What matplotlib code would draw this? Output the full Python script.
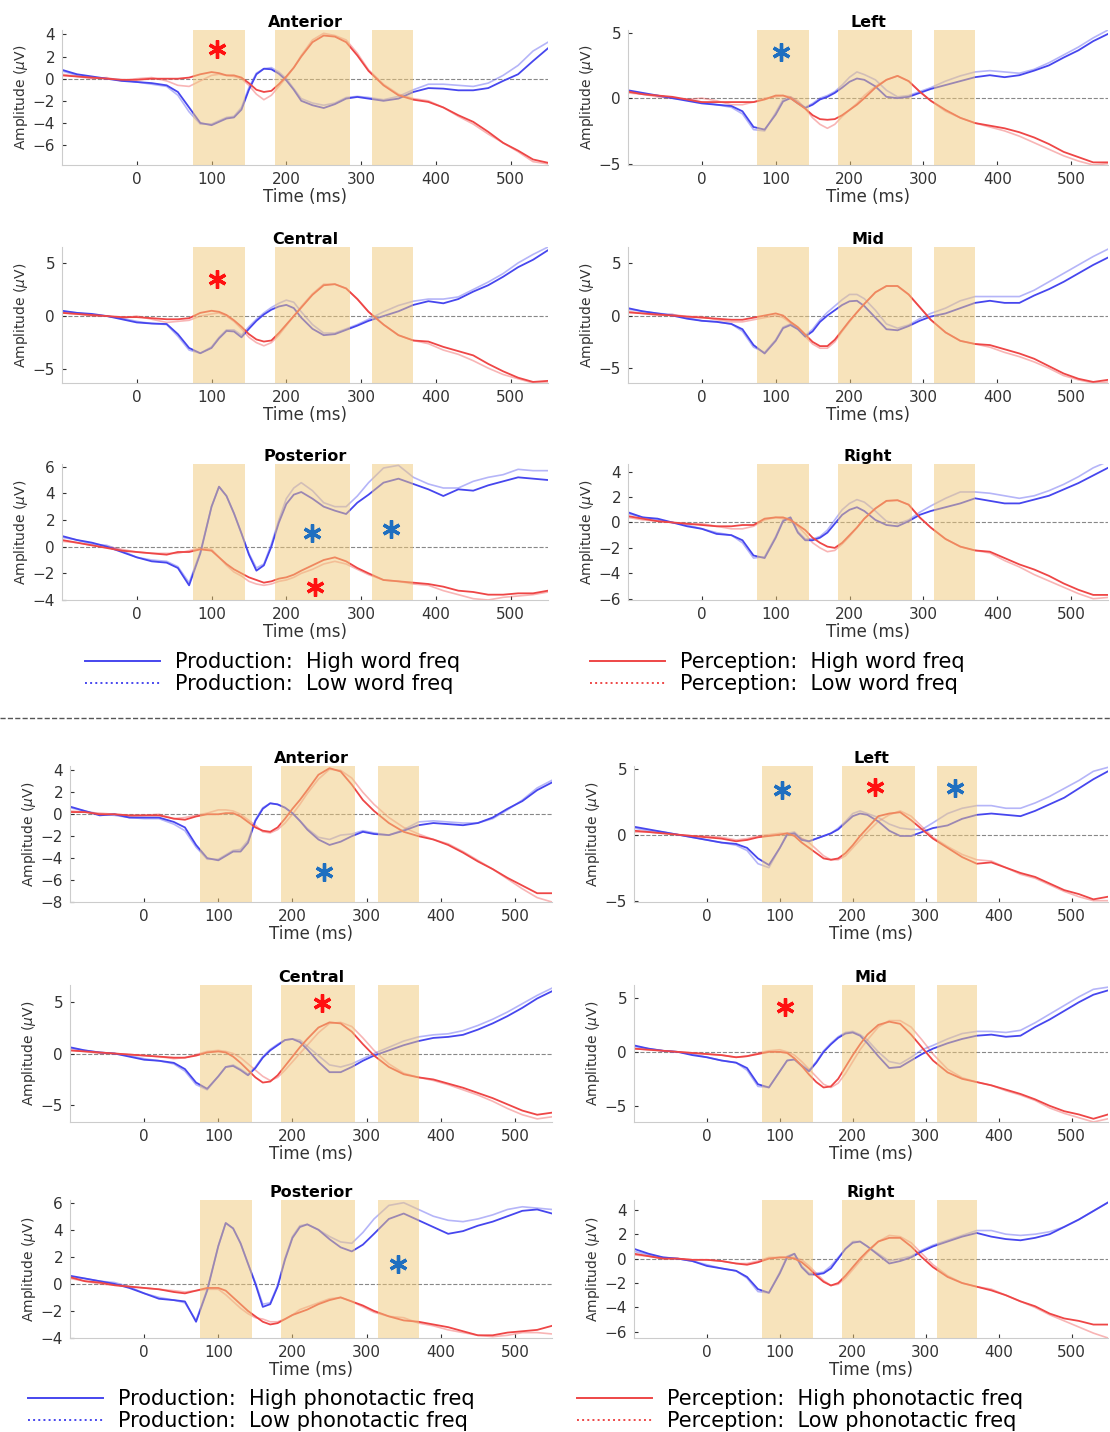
import numpy as np
import matplotlib
matplotlib.use("Agg")
import matplotlib.pyplot as plt
from matplotlib.lines import Line2D

plt.rcParams['font.family'] = ['DejaVu Sans']

# time axis (ms), shared by every curve
t = [-100, -80, -60, -40, -20, 0, 20, 40, 55, 70, 85, 100, 110, 120, 130, 140, 150, 160, 170, 180,
     190, 200, 210, 220, 235, 250, 265, 280, 295, 310, 330, 350, 370, 390, 410, 430, 450, 470, 490, 510, 530, 550]

# analysis windows (ms)
windows = [(75, 145), (185, 285), (315, 370)]

# ---------------- word frequency ----------------
w_ant_prod_hi = [0.8,0.4,0.2,0.0,-0.2,-0.3,-0.4,-0.6,-1.2,-2.6,-4.0,-4.2,-3.9,-3.6,-3.5,-2.8,-1.0,0.4,0.9,0.85,0.45,-0.15,-1.0,-2.0,-2.4,-2.65,-2.3,-1.8,-1.65,-1.8,-2.0,-1.8,-1.2,-0.85,-0.9,-1.05,-1.05,-0.85,-0.2,0.4,1.6,2.75]
w_ant_prod_lo = [0.7,0.3,0.1,0.0,-0.1,-0.3,-0.5,-0.7,-1.5,-3.0,-4.1,-4.1,-3.8,-3.5,-3.4,-2.6,-0.8,0.5,0.9,1.0,0.6,0.0,-0.9,-1.8,-2.2,-2.4,-2.2,-1.7,-1.6,-1.7,-1.9,-1.6,-1.0,-0.5,-0.5,-0.6,-0.7,-0.4,0.3,1.2,2.5,3.3]
w_ant_perc_hi = [0.3,0.2,0.1,0.0,-0.1,-0.1,0.0,0.0,0.0,0.1,0.4,0.6,0.5,0.3,0.3,0.1,-0.4,-1.0,-1.2,-1.1,-0.5,0.2,1.0,2.0,3.3,3.9,3.8,3.3,2.1,0.7,-0.6,-1.5,-1.9,-2.1,-2.6,-3.3,-3.9,-4.8,-5.8,-6.5,-7.3,-7.6]
w_ant_perc_lo = [0.4,0.2,0.0,0.1,-0.2,0.0,0.1,-0.2,-0.6,-0.7,-0.2,0.3,0.4,0.3,0.2,0.0,-0.6,-1.4,-1.9,-1.5,-0.7,0.1,1.0,2.1,3.5,4.1,3.9,3.5,2.3,0.8,-0.5,-1.4,-1.8,-2.0,-2.6,-3.4,-4.1,-5.0,-5.8,-6.6,-7.5,-7.7]

w_left_prod_hi = [0.6,0.4,0.2,0.0,-0.2,-0.4,-0.5,-0.6,-1.0,-2.2,-2.4,-1.25,-0.25,0.0,-0.4,-0.75,-0.5,-0.1,0.1,0.4,0.8,1.25,1.5,1.4,0.9,0.1,0.0,0.1,0.4,0.7,1.0,1.3,1.6,1.75,1.6,1.75,2.1,2.5,3.1,3.65,4.35,4.9]
w_left_prod_lo = [0.5,0.3,0.2,0.0,-0.1,-0.3,-0.5,-0.7,-1.2,-2.4,-2.5,-1.1,-0.1,0.1,-0.3,-0.7,-0.4,0.0,0.2,0.5,1.0,1.6,2.0,1.8,1.4,0.6,0.1,0.2,0.5,0.8,1.3,1.7,2.0,2.1,2.0,1.9,2.2,2.7,3.3,3.9,4.6,5.2]
w_left_perc_hi = [0.5,0.3,0.2,0.1,-0.1,-0.3,-0.3,-0.3,-0.3,-0.3,-0.1,0.2,0.2,0.0,-0.4,-0.8,-1.3,-1.6,-1.65,-1.6,-1.3,-0.9,-0.5,0.0,0.8,1.4,1.7,1.3,0.5,-0.2,-0.9,-1.5,-1.9,-2.1,-2.3,-2.6,-3.0,-3.5,-4.1,-4.5,-4.9,-4.9]
w_left_perc_lo = [0.4,0.3,0.1,0.0,-0.1,0.0,-0.2,-0.5,-0.5,-0.3,0.0,0.1,0.2,0.1,-0.2,-0.8,-1.5,-2.0,-2.3,-2.0,-1.4,-0.9,-0.4,0.2,0.9,1.4,1.7,1.3,0.5,-0.2,-1.0,-1.5,-1.9,-2.2,-2.5,-2.9,-3.4,-3.9,-4.4,-4.8,-5.1,-5.0]

w_cen_prod_hi = [0.5,0.3,0.2,0.0,-0.3,-0.6,-0.7,-0.75,-1.7,-3.0,-3.5,-3.0,-2.1,-1.4,-1.45,-2.0,-1.2,-0.45,0.15,0.6,0.9,1.05,0.75,-0.15,-1.2,-1.8,-1.7,-1.3,-0.9,-0.45,0.0,0.45,1.05,1.4,1.2,1.6,2.3,2.9,3.7,4.6,5.3,6.2]
w_cen_prod_lo = [0.4,0.3,0.1,0.0,-0.2,-0.5,-0.7,-0.8,-1.9,-3.2,-3.5,-2.9,-2.0,-1.3,-1.3,-1.8,-1.0,-0.3,0.3,0.8,1.2,1.5,1.3,0.4,-0.8,-1.6,-1.6,-1.2,-0.8,-0.3,0.4,1.0,1.4,1.6,1.6,1.8,2.5,3.2,4.0,5.0,5.8,6.5]
w_cen_perc_hi = [0.3,0.2,0.1,0.0,-0.1,-0.1,-0.2,-0.3,-0.3,-0.2,0.3,0.5,0.4,0.1,-0.4,-1.0,-1.7,-2.2,-2.4,-2.3,-1.6,-0.8,0.0,0.8,2.0,2.9,3.0,2.6,1.6,0.4,-0.8,-1.8,-2.3,-2.4,-2.9,-3.3,-3.7,-4.5,-5.2,-5.8,-6.2,-6.1]
w_cen_perc_lo = [0.3,0.2,0.0,0.0,-0.2,0.0,-0.3,-0.6,-0.5,-0.4,0.0,0.2,0.3,0.0,-0.5,-1.2,-2.0,-2.5,-2.8,-2.5,-1.8,-0.9,0.0,0.9,2.1,3.0,3.0,2.6,1.6,0.4,-0.8,-1.8,-2.3,-2.6,-3.2,-3.6,-4.2,-4.9,-5.5,-5.9,-6.3,-6.3]

w_mid_prod_hi = [0.7,0.4,0.2,0.0,-0.3,-0.5,-0.6,-0.8,-1.3,-2.8,-3.6,-2.4,-1.2,-0.9,-1.3,-2.0,-1.5,-0.6,0.0,0.5,1.0,1.35,1.4,0.9,-0.2,-1.3,-1.4,-1.0,-0.5,-0.1,0.2,0.7,1.2,1.4,1.2,1.2,1.9,2.5,3.2,4.0,4.8,5.5]
w_mid_prod_lo = [0.6,0.4,0.2,0.1,-0.2,-0.5,-0.6,-0.8,-1.5,-3.0,-3.5,-2.3,-1.1,-0.8,-1.2,-1.9,-1.3,-0.4,0.3,0.9,1.5,2.0,2.0,1.6,0.5,-0.8,-1.2,-0.9,-0.3,0.2,0.7,1.4,1.8,1.8,1.8,1.8,2.4,3.2,4.0,4.8,5.6,6.3]
w_mid_perc_hi = [0.3,0.2,0.1,0.0,-0.1,-0.2,-0.3,-0.4,-0.4,-0.2,0.0,0.2,0.0,-0.6,-1.1,-1.8,-2.5,-2.9,-2.9,-2.3,-1.4,-0.5,0.3,1.1,2.2,2.8,2.8,2.0,0.8,-0.4,-1.6,-2.4,-2.7,-2.8,-3.2,-3.6,-4.1,-4.8,-5.5,-6.0,-6.3,-6.1]
w_mid_perc_lo = [0.4,0.2,0.0,0.1,-0.1,-0.1,-0.4,-0.6,-0.6,-0.4,-0.2,0.0,-0.2,-0.7,-1.2,-2.0,-2.7,-3.1,-3.1,-2.5,-1.5,-0.6,0.3,1.1,2.2,2.8,2.8,2.0,0.8,-0.4,-1.6,-2.4,-2.7,-3.0,-3.5,-3.9,-4.4,-5.0,-5.7,-6.1,-6.4,-6.3]

w_post_prod_hi = [0.8,0.5,0.3,0.0,-0.4,-0.8,-1.1,-1.2,-1.6,-2.9,-0.5,3.0,4.5,3.8,2.5,1.0,-0.6,-1.8,-1.4,0.0,1.8,3.2,3.9,4.1,3.6,3.0,2.7,2.45,3.3,3.9,4.8,5.1,4.7,4.3,3.8,4.3,4.2,4.6,4.9,5.2,5.1,5.0]
w_post_prod_lo = [0.7,0.5,0.2,0.1,-0.3,-0.8,-1.0,-1.1,-1.5,-2.7,-0.4,3.0,4.5,3.8,2.5,1.0,-0.5,-1.6,-1.3,0.2,2.0,3.6,4.4,4.8,4.2,3.3,3.0,3.0,3.8,4.8,5.9,6.1,5.2,4.7,4.4,4.4,4.9,5.2,5.4,5.8,5.7,5.7]
w_post_perc_hi = [0.5,0.3,0.1,-0.1,-0.3,-0.4,-0.5,-0.6,-0.4,-0.4,-0.2,-0.3,-0.8,-1.3,-1.7,-2.0,-2.3,-2.5,-2.7,-2.6,-2.4,-2.3,-2.1,-1.8,-1.4,-1.0,-0.8,-1.1,-1.6,-2.0,-2.5,-2.6,-2.7,-2.8,-3.0,-3.3,-3.4,-3.6,-3.6,-3.5,-3.5,-3.3]
w_post_perc_lo = [0.4,0.3,0.1,0.0,-0.2,-0.4,-0.5,-0.5,-0.5,-0.3,-0.1,-0.2,-0.8,-1.4,-1.9,-2.2,-2.6,-2.8,-2.9,-2.8,-2.6,-2.5,-2.3,-2.0,-1.7,-1.3,-1.1,-1.3,-1.7,-2.1,-2.5,-2.6,-2.8,-2.9,-3.3,-3.6,-3.9,-4.0,-3.8,-3.7,-3.6,-3.4]

w_right_prod_hi = [0.8,0.4,0.3,0.0,-0.3,-0.5,-0.9,-1.0,-1.4,-2.6,-2.8,-1.2,0.1,0.4,-0.8,-1.4,-1.4,-1.2,-0.8,-0.1,0.6,1.0,1.2,0.9,0.2,-0.2,-0.3,0.1,0.6,0.9,1.2,1.5,1.9,1.7,1.5,1.5,1.8,2.1,2.6,3.1,3.7,4.3]
w_right_prod_lo = [0.7,0.4,0.2,0.0,-0.2,-0.5,-0.8,-1.0,-1.6,-2.8,-2.7,-1.1,0.2,0.4,-0.7,-1.3,-1.3,-1.1,-0.6,0.2,1.0,1.5,1.8,1.6,0.9,0.1,-0.1,0.2,0.8,1.3,1.9,2.4,2.4,2.3,2.1,1.9,2.1,2.5,3.0,3.6,4.3,4.8]
w_right_perc_hi = [0.5,0.3,0.1,0.0,-0.1,-0.2,-0.3,-0.3,-0.2,-0.2,0.3,0.4,0.4,0.2,-0.2,-0.6,-1.2,-1.6,-1.9,-2.0,-1.6,-1.0,-0.4,0.3,1.1,1.7,1.75,1.4,0.4,-0.4,-1.3,-1.9,-2.2,-2.3,-2.8,-3.3,-3.7,-4.2,-4.8,-5.3,-5.7,-5.7]
w_right_perc_lo = [0.4,0.2,0.1,0.0,-0.1,-0.1,-0.3,-0.5,-0.5,-0.3,0.2,0.4,0.3,0.1,-0.3,-0.9,-1.6,-2.0,-2.3,-2.2,-1.7,-1.1,-0.4,0.3,1.1,1.7,1.75,1.4,0.4,-0.4,-1.3,-1.9,-2.2,-2.4,-3.0,-3.5,-4.1,-4.6,-5.1,-5.6,-6.0,-5.9]

# ---------------- phonotactic frequency ----------------
p_ant_prod_hi = [0.7,0.3,-0.1,0.0,-0.3,-0.3,-0.3,-0.7,-1.2,-2.8,-4.0,-4.2,-3.8,-3.4,-3.4,-2.6,-0.6,0.5,1.0,0.9,0.6,0.1,-0.6,-1.4,-2.3,-2.8,-2.5,-2.0,-1.6,-1.8,-1.9,-1.5,-1.0,-0.8,-0.9,-1.0,-0.8,-0.3,0.5,1.2,2.2,2.9]
p_ant_prod_lo = [0.6,0.3,0.0,-0.1,-0.3,-0.4,-0.4,-0.9,-1.5,-3.0,-4.1,-4.1,-3.7,-3.3,-3.2,-2.4,-0.5,0.6,1.0,0.9,0.6,0.1,-0.6,-1.3,-2.1,-2.3,-1.9,-1.8,-1.5,-1.7,-1.9,-1.4,-0.7,-0.6,-0.7,-0.8,-0.8,-0.4,0.4,1.3,2.4,3.1]
p_ant_perc_hi = [0.2,0.2,0.0,0.0,-0.1,-0.1,-0.1,-0.4,-0.5,-0.2,0.0,0.0,0.1,0.1,-0.2,-0.7,-1.2,-1.5,-1.6,-1.2,-0.4,0.5,1.3,2.2,3.6,4.2,3.9,2.7,1.3,0.3,-0.8,-1.6,-2.0,-2.3,-2.8,-3.5,-4.3,-5.0,-5.8,-6.5,-7.2,-7.2]
p_ant_perc_lo = [0.3,0.2,0.1,0.0,-0.2,-0.1,0.0,-0.4,-0.3,-0.1,0.1,0.4,0.4,0.3,0.0,-0.5,-1.0,-1.6,-1.7,-1.4,-0.8,0.0,0.9,1.9,3.2,4.1,4.0,3.3,2.0,0.9,-0.3,-1.2,-1.8,-2.3,-2.7,-3.4,-4.2,-5.0,-5.9,-6.8,-7.6,-8.0]

p_left_prod_hi = [0.6,0.4,0.2,0.0,-0.2,-0.4,-0.6,-0.7,-1.0,-1.8,-2.3,-1.0,0.0,0.1,-0.4,-0.5,-0.3,-0.1,0.1,0.4,0.9,1.4,1.6,1.5,1.0,0.3,-0.1,-0.1,0.2,0.5,0.7,1.2,1.5,1.6,1.5,1.4,1.8,2.3,2.8,3.5,4.2,4.8]
p_left_prod_lo = [0.5,0.3,0.2,0.0,-0.2,-0.4,-0.6,-0.8,-1.2,-2.2,-2.5,-1.0,0.1,0.2,-0.3,-0.5,-0.3,-0.1,0.1,0.5,1.0,1.6,1.8,1.6,1.3,0.8,0.5,0.4,0.4,0.9,1.6,2.0,2.2,2.2,2.0,2.0,2.4,2.9,3.5,4.1,4.8,5.1]
p_left_perc_hi = [0.3,0.2,0.1,0.0,-0.1,-0.2,-0.3,-0.5,-0.4,-0.2,-0.1,0.0,0.1,-0.1,-0.6,-1.0,-1.4,-1.8,-1.9,-1.8,-1.4,-0.8,-0.1,0.5,1.4,1.6,1.7,1.1,0.4,-0.3,-1.0,-1.7,-2.2,-2.1,-2.5,-2.9,-3.2,-3.7,-4.2,-4.5,-4.9,-4.7]
p_left_perc_lo = [0.2,0.2,0.1,0.0,-0.1,-0.1,-0.2,-0.4,-0.3,-0.1,0.0,0.1,0.1,0.0,-0.3,-0.6,-1.1,-1.6,-1.9,-1.9,-1.6,-1.0,-0.4,0.2,1.0,1.5,1.8,1.4,0.6,-0.2,-0.9,-1.5,-1.9,-2.0,-2.5,-3.0,-3.3,-3.8,-4.3,-4.7,-5.0,-5.0]

p_cen_prod_hi = [0.6,0.3,0.1,0.0,-0.3,-0.6,-0.7,-0.9,-1.5,-2.8,-3.4,-2.2,-1.3,-1.2,-1.6,-2.1,-1.4,-0.4,0.3,0.8,1.3,1.4,1.1,0.4,-0.8,-1.8,-1.8,-1.3,-0.7,-0.2,0.3,0.8,1.2,1.5,1.6,1.8,2.3,2.9,3.6,4.4,5.3,6.0]
p_cen_prod_lo = [0.5,0.3,0.1,0.0,-0.2,-0.5,-0.7,-1.0,-1.7,-3.0,-3.5,-2.2,-1.3,-1.1,-1.5,-2.0,-1.3,-0.3,0.4,0.9,1.3,1.4,1.3,0.7,-0.2,-1.1,-1.3,-1.0,-0.5,0.0,0.6,1.2,1.6,1.8,1.9,2.2,2.7,3.3,4.0,4.8,5.6,6.3]
p_cen_perc_hi = [0.3,0.2,0.1,0.0,-0.1,-0.2,-0.3,-0.4,-0.4,-0.2,0.1,0.2,0.1,-0.3,-0.9,-1.6,-2.3,-2.8,-2.7,-2.1,-1.2,-0.3,0.6,1.4,2.5,3.0,2.9,2.1,0.9,-0.2,-1.3,-2.0,-2.3,-2.5,-2.9,-3.3,-3.8,-4.3,-4.9,-5.5,-5.9,-5.7]
p_cen_perc_lo = [0.3,0.2,0.0,0.0,-0.1,-0.2,-0.3,-0.5,-0.4,-0.1,0.2,0.3,0.2,0.0,-0.4,-1.0,-1.6,-2.2,-2.6,-2.3,-1.6,-0.8,0.0,0.8,2.0,2.9,3.0,2.6,1.5,0.3,-1.0,-1.9,-2.3,-2.6,-3.0,-3.5,-4.0,-4.6,-5.3,-5.9,-6.3,-6.1]

p_mid_prod_hi = [0.6,0.3,0.1,0.0,-0.3,-0.5,-0.8,-1.0,-1.5,-3.0,-3.3,-1.8,-0.8,-0.7,-1.3,-1.8,-1.0,0.0,0.7,1.3,1.7,1.8,1.5,0.8,-0.4,-1.5,-1.4,-0.8,-0.2,0.3,0.8,1.2,1.5,1.6,1.4,1.5,2.3,3.0,3.8,4.6,5.3,5.7]
p_mid_prod_lo = [0.5,0.3,0.1,0.0,-0.2,-0.5,-0.8,-1.0,-1.7,-3.2,-3.3,-1.8,-0.8,-0.7,-1.2,-1.7,-0.9,0.1,0.8,1.4,1.8,1.9,1.6,1.1,0.0,-0.9,-1.1,-0.5,0.2,0.6,1.2,1.7,1.9,1.9,1.8,2.0,2.7,3.5,4.3,5.1,5.8,6.0]
p_mid_perc_hi = [0.3,0.2,0.1,0.0,-0.1,-0.2,-0.3,-0.5,-0.4,-0.2,0.0,0.0,-0.1,-0.6,-1.3,-2.1,-2.8,-3.3,-3.2,-2.5,-1.4,-0.3,0.7,1.6,2.5,2.8,2.6,1.6,0.4,-0.8,-1.9,-2.5,-2.8,-3.1,-3.5,-3.9,-4.4,-5.0,-5.5,-5.8,-6.2,-5.8]
p_mid_perc_lo = [0.3,0.2,0.1,0.0,-0.1,-0.2,-0.3,-0.5,-0.4,-0.1,0.1,0.2,0.0,-0.3,-0.9,-1.6,-2.3,-3.0,-3.3,-2.9,-2.0,-0.9,0.2,1.1,2.3,2.9,2.9,2.3,1.1,-0.2,-1.6,-2.4,-2.8,-3.1,-3.6,-4.0,-4.5,-5.2,-5.7,-6.1,-6.5,-6.2]

p_post_prod_hi = [0.6,0.4,0.2,0.0,-0.3,-0.7,-1.1,-1.2,-1.3,-2.8,-0.5,2.8,4.5,4.1,3.0,1.5,0.0,-1.7,-1.5,-0.2,1.8,3.4,4.2,4.4,4.0,3.3,2.7,2.4,2.9,3.7,4.8,5.2,4.7,4.2,3.7,3.9,4.3,4.6,5.0,5.4,5.5,5.2]
p_post_prod_lo = [0.5,0.4,0.2,0.1,-0.2,-0.7,-1.0,-1.2,-1.4,-2.7,-0.4,2.8,4.5,4.1,3.0,1.5,0.1,-1.5,-1.4,-0.1,1.9,3.5,4.3,4.4,4.0,3.5,3.1,3.0,3.8,4.8,5.8,6.0,5.5,5.0,4.7,4.6,4.8,5.1,5.5,5.7,5.6,5.5]
p_post_perc_hi = [0.5,0.2,0.1,-0.1,-0.2,-0.3,-0.4,-0.6,-0.7,-0.5,-0.3,-0.3,-0.5,-1.0,-1.5,-2.0,-2.4,-2.8,-3.0,-2.9,-2.6,-2.3,-2.1,-1.9,-1.5,-1.2,-1.0,-1.3,-1.6,-2.0,-2.4,-2.7,-2.8,-3.0,-3.2,-3.5,-3.8,-3.8,-3.6,-3.5,-3.4,-3.1]
p_post_perc_lo = [0.4,0.2,0.0,-0.1,-0.2,-0.3,-0.4,-0.5,-0.6,-0.5,-0.4,-0.4,-0.8,-1.3,-1.8,-2.2,-2.5,-2.6,-2.8,-2.8,-2.6,-2.3,-1.9,-1.7,-1.4,-1.1,-1.0,-1.3,-1.7,-2.1,-2.4,-2.5,-2.9,-3.1,-3.4,-3.6,-3.8,-3.9,-3.8,-3.6,-3.6,-3.7]

p_right_prod_hi = [0.8,0.4,0.1,0.0,-0.2,-0.6,-0.8,-1.0,-1.5,-2.5,-2.8,-1.2,0.1,0.4,-0.7,-1.3,-1.3,-1.2,-0.8,0.0,0.8,1.3,1.4,1.0,0.3,-0.4,-0.2,0.1,0.6,1.0,1.4,1.8,2.1,1.8,1.6,1.5,1.7,2.0,2.6,3.2,3.9,4.6]
p_right_prod_lo = [0.6,0.3,0.1,0.0,-0.2,-0.5,-0.8,-1.0,-1.6,-2.7,-2.8,-1.1,0.2,0.4,-0.6,-1.2,-1.2,-1.1,-0.6,0.1,0.8,1.4,1.4,1.0,0.4,-0.2,0.0,0.2,0.7,1.1,1.5,1.9,2.3,2.3,2.0,1.9,2.0,2.2,2.6,3.2,3.9,4.6]
p_right_perc_hi = [0.4,0.2,0.0,0.0,-0.1,-0.1,-0.2,-0.4,-0.5,-0.3,0.0,0.1,0.1,0.0,-0.3,-0.8,-1.4,-1.9,-2.2,-2.0,-1.4,-0.7,0.0,0.6,1.4,1.7,1.7,1.0,0.1,-0.7,-1.5,-2.0,-2.3,-2.6,-3.0,-3.5,-3.9,-4.5,-4.9,-5.1,-5.4,-5.4]
p_right_perc_lo = [0.3,0.2,0.0,0.0,-0.1,-0.1,-0.2,-0.4,-0.4,-0.2,0.1,0.1,0.1,0.1,-0.1,-0.6,-1.2,-1.8,-2.2,-2.1,-1.6,-0.9,-0.2,0.5,1.4,1.9,1.8,1.3,0.4,-0.5,-1.4,-2.0,-2.3,-2.5,-3.0,-3.5,-4.0,-4.6,-5.1,-5.6,-6.1,-6.5]

# significance asterisks: (time, amplitude, 'prod' or 'perc')
w_ant_stars = [(107, 2.7, 'perc')]
w_left_stars = [(107, 3.5, 'prod')]
w_cen_stars = [(107, 3.5, 'perc')]
w_post_stars = [(235, 1.0, 'prod'), (340, 1.3, 'prod'), (238, -3.0, 'perc')]
p_ant_stars = [(242, -5.3, 'prod')]
p_left_stars = [(103, 3.4, 'prod'), (231, 3.6, 'perc'), (340, 3.5, 'prod')]
p_cen_stars = [(240, 4.9, 'perc')]
p_mid_stars = [(107, 4.2, 'perc')]
p_post_stars = [(342, 1.5, 'prod')]

PROD = '#4646ee'
PERC = '#ee4646'
STAR = {'prod': '#1f6fc0', 'perc': '#ff1010'}
SHADE = '#f0c878'
TXT = '#333333'

W, H = 1110, 1432
fig = plt.figure(figsize=(W / 100, H / 100), dpi=100)


def box(x0, y0, x1, y1):
    return [x0 / W, 1 - y1 / H, (x1 - x0) / W, (y1 - y0) / H]


def draw_panel(rect, title, curves, ylim, yticks, stars):
    ax = fig.add_axes(box(*rect))
    prod_hi, prod_lo, perc_hi, perc_lo = curves
    ax.axhline(0, color='#888888', ls='--', lw=0.8, zorder=1)
    ax.plot(t, prod_lo, color=PROD, lw=1.2, alpha=0.4, zorder=2)
    ax.plot(t, perc_lo, color=PERC, lw=1.2, alpha=0.4, zorder=2)
    ax.plot(t, prod_hi, color=PROD, lw=1.3, zorder=2)
    ax.plot(t, perc_hi, color=PERC, lw=1.3, zorder=2)
    for a, b in windows:
        ax.axvspan(a, b, color=SHADE, alpha=0.5, lw=0, zorder=3)
    for x, y, kind in stars:
        ax.plot(x, y, marker=(6, 2, 0), ms=13, mew=2.4, color=STAR[kind], zorder=5)
    ax.set_xlim(-100, 550)
    ax.set_ylim(*ylim)
    ax.set_xticks([0, 100, 200, 300, 400, 500])
    ax.set_yticks(yticks)
    ax.set_title(title, fontsize=11.5, fontweight='bold', pad=2)
    ax.set_xlabel('Time (ms)', fontsize=12, color=TXT, labelpad=1)
    ax.set_ylabel(r'Amplitude ($\mu$V)', fontsize=10, color=TXT, labelpad=2)
    ax.tick_params(direction='in', length=3, labelsize=11, colors=TXT, pad=5)
    for s in ['top', 'right']:
        ax.spines[s].set_visible(False)
    for s in ['left', 'bottom']:
        ax.spines[s].set_color('#cccccc')
    return ax


# top half: word frequency
draw_panel((62, 30, 548, 165), 'Anterior', (w_ant_prod_hi, w_ant_prod_lo, w_ant_perc_hi, w_ant_perc_lo),
           (-7.8, 4.4), [-6, -4, -2, 0, 2, 4], w_ant_stars)
draw_panel((628, 30, 1108, 165), 'Left', (w_left_prod_hi, w_left_prod_lo, w_left_perc_hi, w_left_perc_lo),
           (-5.1, 5.2), [-5, 0, 5], w_left_stars)
draw_panel((62, 247, 548, 383), 'Central', (w_cen_prod_hi, w_cen_prod_lo, w_cen_perc_hi, w_cen_perc_lo),
           (-6.3, 6.5), [-5, 0, 5], w_cen_stars)
draw_panel((628, 247, 1108, 383), 'Mid', (w_mid_prod_hi, w_mid_prod_lo, w_mid_perc_hi, w_mid_perc_lo),
           (-6.4, 6.5), [-5, 0, 5], [])
draw_panel((62, 464, 548, 600), 'Posterior', (w_post_prod_hi, w_post_prod_lo, w_post_perc_hi, w_post_perc_lo),
           (-4.0, 6.2), [-4, -2, 0, 2, 4, 6], w_post_stars)
draw_panel((628, 464, 1108, 600), 'Right', (w_right_prod_hi, w_right_prod_lo, w_right_perc_hi, w_right_perc_lo),
           (-6.1, 4.6), [-6, -4, -2, 0, 2, 4], [])

# bottom half: phonotactic frequency
draw_panel((70, 766, 552, 902), 'Anterior', (p_ant_prod_hi, p_ant_prod_lo, p_ant_perc_hi, p_ant_perc_lo),
           (-8.0, 4.4), [-8, -6, -4, -2, 0, 2, 4], p_ant_stars)
draw_panel((634, 766, 1108, 902), 'Left', (p_left_prod_hi, p_left_prod_lo, p_left_perc_hi, p_left_perc_lo),
           (-5.1, 5.2), [-5, 0, 5], p_left_stars)
draw_panel((70, 985, 552, 1122), 'Central', (p_cen_prod_hi, p_cen_prod_lo, p_cen_perc_hi, p_cen_perc_lo),
           (-6.6, 6.6), [-5, 0, 5], p_cen_stars)
draw_panel((634, 985, 1108, 1122), 'Mid', (p_mid_prod_hi, p_mid_prod_lo, p_mid_perc_hi, p_mid_perc_lo),
           (-6.5, 6.2), [-5, 0, 5], p_mid_stars)
draw_panel((70, 1200, 552, 1338), 'Posterior', (p_post_prod_hi, p_post_prod_lo, p_post_perc_hi, p_post_perc_lo),
           (-4.0, 6.2), [-4, -2, 0, 2, 4, 6], p_post_stars)
draw_panel((634, 1200, 1108, 1338), 'Right', (p_right_prod_hi, p_right_prod_lo, p_right_perc_hi, p_right_perc_lo),
           (-6.5, 4.8), [-6, -4, -2, 0, 2, 4], [])


def add_legend(x, y, color, labels):
    handles = [Line2D([], [], color=color, lw=1.4, ls='-'),
               Line2D([], [], color=color, lw=1.4, ls=':')]
    fig.legend(handles, labels, loc='center left', bbox_to_anchor=(x / W, 1 - y / H),
               frameon=False, handlelength=3.6, handletextpad=0.7,
               labelspacing=0.1, borderpad=0, borderaxespad=0,
               prop={'family': 'DejaVu Sans', 'size': 15})


add_legend(85, 673, PROD, ['Production:  High word freq', 'Production:  Low word freq'])
add_legend(590, 673, PERC, ['Perception:  High word freq', 'Perception:  Low word freq'])
add_legend(28, 1410, PROD, ['Production:  High phonotactic freq', 'Production:  Low phonotactic freq'])
add_legend(577, 1410, PERC, ['Perception:  High phonotactic freq', 'Perception:  Low phonotactic freq'])

# separator between the two analyses
fig.add_artist(Line2D([0, 1], [1 - 718 / H] * 2, transform=fig.transFigure,
                      color='#555555', ls='--', lw=1))

fig.savefig('out.png', dpi=100)
